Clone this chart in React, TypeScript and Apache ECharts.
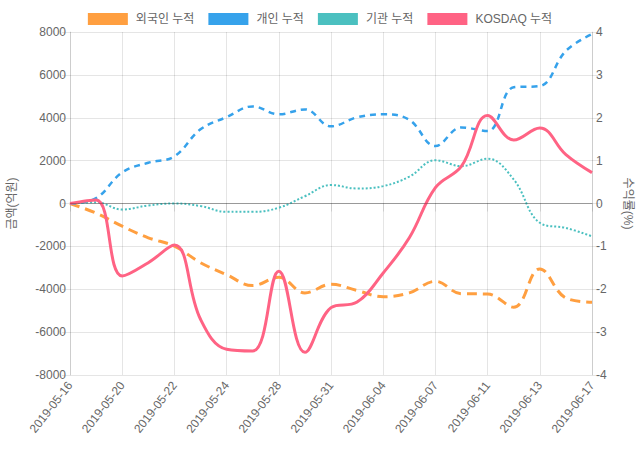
import React, { useEffect, useRef } from "react";
import * as echarts from "echarts";

const dates = [
  "2019-05-16", "2019-05-17", "2019-05-20", "2019-05-21", "2019-05-22", "2019-05-23",
  "2019-05-24", "2019-05-27", "2019-05-28", "2019-05-29", "2019-05-31", "2019-06-03",
  "2019-06-04", "2019-06-05", "2019-06-07", "2019-06-10", "2019-06-11", "2019-06-12",
  "2019-06-13", "2019-06-14", "2019-06-17",
];
const foreignCum = [0, -450, -1060, -1600, -1990, -2760, -3320, -3830, -3440, -4170, -3770, -4060, -4350, -4170, -3630, -4210, -4220, -4840, -3050, -4410, -4610];
const individualCum = [0, 250, 1450, 1900, 2200, 3460, 4030, 4530, 4160, 4390, 3600, 4020, 4160, 3900, 2680, 3550, 3380, 5420, 5480, 7120, 7900];
const institutionCum = [0, 60, -280, -90, 0, -120, -390, -390, -200, 340, 860, 700, 810, 1250, 2020, 1740, 2090, 1120, -900, -1140, -1530];
const kosdaqCum = [0, 0.08, -1.69, -1.38, -0.97, -2.7, -3.4, -3.44, -1.58, -3.47, -2.43, -2.3, -1.62, -0.8, 0.37, 0.87, 2.05, 1.48, 1.76, 1.14, 0.72];

const FONT = "'Liberation Sans', 'Noto Sans CJK KR', sans-serif";
const GRID = "rgba(0,0,0,0.1)";
const TXT = "#666";

export default function App() {
  const ref = useRef<HTMLDivElement>(null);
  useEffect(() => {
    if (!ref.current) return;
    const chart = echarts.init(ref.current, null, { renderer: "svg" });
    chart.setOption({
      animation: false,
      textStyle: { fontFamily: FONT },
      legend: {
        top: 8,
        left: "center",
        itemWidth: 40,
        itemHeight: 12,
        itemGap: 14,
        icon: "rect",
        textStyle: { color: TXT, fontSize: 12, fontFamily: FONT, padding: [0, 0, 0, 3] },
        data: ["외국인 누적", "개인 누적", "기관 누적", "KOSDAQ 누적"],
      },
      grid: { left: 70, right: 48, top: 32, bottom: 75, containLabel: false, outerBoundsMode: "none" },
      xAxis: {
        type: "category",
        data: dates,
        boundaryGap: false,
        axisLine: { show: true, lineStyle: { color: GRID } },
        axisTick: { show: true, interval: 1, length: 8, lineStyle: { color: GRID } },
        axisLabel: { interval: 1, rotate: 52, color: TXT, fontSize: 12, fontFamily: FONT, margin: 8 },
        splitLine: { show: true, interval: 1, lineStyle: { color: GRID } },
      },
      yAxis: [
        {
          type: "value",
          min: -8000,
          max: 8000,
          interval: 2000,
          name: "금액(억원)",
          nameLocation: "middle",
          nameGap: 52,
          nameRotate: 90,
          nameTextStyle: { color: TXT, fontSize: 12, fontFamily: FONT },
          axisLine: { show: true, lineStyle: { color: GRID } },
          axisTick: { show: true, length: 8, lineStyle: { color: GRID } },
          axisLabel: { color: TXT, fontSize: 12, fontFamily: FONT, margin: 4, formatter: (v: number) => String(v) },
          splitLine: { show: true, lineStyle: { color: GRID } },
        },
        {
          type: "value",
          min: -4,
          max: 4,
          interval: 1,
          position: "right",
          name: "수익률(%)",
          nameLocation: "middle",
          nameGap: 30,
          nameRotate: -90,
          nameTextStyle: { color: TXT, fontSize: 12, fontFamily: FONT },
          axisLine: { show: true, lineStyle: { color: GRID } },
          axisTick: { show: true, length: 8, lineStyle: { color: GRID } },
          axisLabel: { color: TXT, fontSize: 12, fontFamily: FONT, margin: 4, formatter: (v: number) => String(v) },
          splitLine: { show: false },
        },
      ],
      series: [
        {
          name: "외국인 누적",
          type: "line",
          data: foreignCum,
          yAxisIndex: 0,
          smooth: 0.4,
          showSymbol: false,
          itemStyle: { color: "#ff9f40" },
          lineStyle: { color: "#ff9f40", width: 3, type: [10, 6] },
          markLine: {
            silent: true,
            symbol: "none",
            label: { show: false },
            lineStyle: { color: "rgba(0,0,0,0.25)", type: "solid", width: 1 },
            data: [{ yAxis: 0 }],
          },
          z: 3,
        },
        {
          name: "개인 누적",
          type: "line",
          data: individualCum,
          yAxisIndex: 0,
          smooth: 0.4,
          showSymbol: false,
          itemStyle: { color: "#36a2eb" },
          lineStyle: { color: "#36a2eb", width: 2.5, type: [6, 5] },
          z: 3,
        },
        {
          name: "기관 누적",
          type: "line",
          data: institutionCum,
          yAxisIndex: 0,
          smooth: 0.4,
          showSymbol: false,
          itemStyle: { color: "#4bc0c0" },
          lineStyle: { color: "#4bc0c0", width: 2, type: [2, 2] },
          z: 3,
        },
        {
          name: "KOSDAQ 누적",
          type: "line",
          data: kosdaqCum,
          yAxisIndex: 1,
          smooth: 0.4,
          showSymbol: false,
          itemStyle: { color: "#ff6384" },
          lineStyle: { color: "#ff6384", width: 3 },
          z: 4,
        },
      ],
    });
    return () => chart.dispose();
  }, []);
  return <div ref={ref} style={{ width: 640, height: 450, position: "absolute", left: 0, top: 0 }} />;
}
